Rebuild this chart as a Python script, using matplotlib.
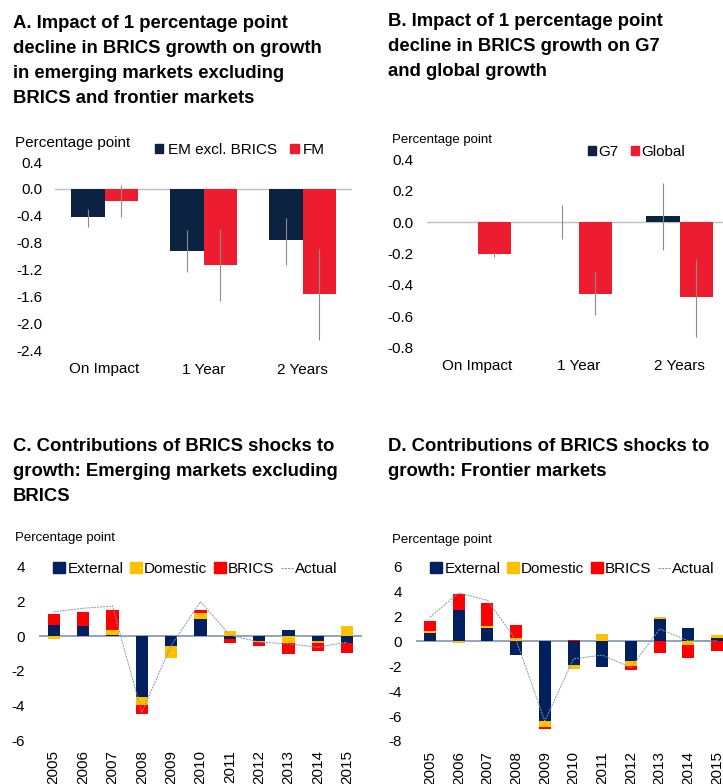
import numpy as np
import matplotlib
matplotlib.use("Agg")
import matplotlib.pyplot as plt
from matplotlib.patches import Patch
from matplotlib.lines import Line2D

plt.rcParams['font.family'] = ['Liberation Sans', 'DejaVu Sans']
plt.rcParams['axes.unicode_minus'] = False

# ---- data ----
horizons = ['On Impact', '1 Year', '2 Years']
em_excl = [-0.42, -0.93, -0.755]
em_lo = [-0.57, -1.24, -1.13]
em_hi = [-0.30, -0.62, -0.43]
fm = [-0.18, -1.13, -1.56]
fm_lo = [-0.42, -1.67, -2.25]
fm_hi = [0.06, -0.60, -0.89]

g7 = [0.0, 0.002, 0.037]
g7_lo = [np.nan, -0.105, -0.18]
g7_hi = [np.nan, 0.11, 0.25]
glob = [-0.20, -0.46, -0.48]
glob_lo = [-0.22, -0.59, -0.73]
glob_hi = [-0.19, -0.32, -0.235]

years = ['2005', '2006', '2007', '2008', '2009', '2010', '2011', '2012', '2013', '2014', '2015']
em_external = [0.63, 0.58, 0.05, -3.5, -0.56, 1.0, -0.2, -0.29, 0.35, -0.3, -0.42]
em_domestic = [-0.15, 0.0, 0.30, -0.5, -0.69, 0.3, 0.29, -0.06, -0.4, -0.1, 0.58]
em_brics = [0.64, 0.79, 1.15, -0.5, 0.0, 0.2, -0.22, -0.25, -0.66, -0.47, -0.54]
em_actual = [1.4, 1.6, 1.73, -4.4, -0.55, 1.98, 0.05, -0.35, -0.45, -0.65, -0.35]

fm_external = [0.64, 2.49, 1.04, -1.1, -6.4, -1.93, -2.05, -1.6, 1.79, 1.04, 0.25]
fm_domestic = [0.2, -0.15, 0.16, 0.24, -0.45, -0.32, 0.62, -0.35, 0.16, -0.25, 0.23]
fm_brics = [0.76, 1.28, 1.85, 1.04, -0.21, 0.12, 0.0, -0.32, -0.95, -1.08, -0.75]
fm_actual = [1.95, 3.9, 3.3, 0.1, -6.4, -1.4, -1.1, -2.1, 1.0, 0.05, 0.05]

NAVY = '#0B2341'
RED = '#ED1C2E'
EXT = '#002060'
DOM = '#FFC000'
BRI = '#FF0000'
ERR = '#8C8C8C'
W, H = 723, 784

fig = plt.figure(figsize=(W / 100, H / 100), dpi=100)


def add_ax(left, top, right, bottom):
    return fig.add_axes([left / W, 1 - bottom / H, (right - left) / W, (bottom - top) / H])


def clean(ax):
    for s in ax.spines.values():
        s.set_visible(False)
    ax.tick_params(length=0, labelsize=11)


def fmt1(vals):
    return ['0.0' if abs(v) < 1e-9 else f'{v:.1f}' for v in vals]


def title(x, y, txt):
    fig.text(x / W, 1 - y / H, txt, fontsize=13.3, fontweight='bold', va='top', ha='left',
             linespacing=1.62)


def pct(x, y, size):
    fig.text(x / W, 1 - y / H, 'Percentage point', fontsize=size, va='center', ha='left')


title(13, 15, 'A. Impact of 1 percentage point\ndecline in BRICS growth on growth\nin emerging markets excluding\nBRICS and frontier markets')
title(388, 13, 'B. Impact of 1 percentage point\ndecline in BRICS growth on G7\nand global growth')
title(13, 438, 'C. Contributions of BRICS shocks to\ngrowth: Emerging markets excluding\nBRICS')
title(388, 438, 'D. Contributions of BRICS shocks to\ngrowth: Frontier markets')

# ---- Panel A ----
ax = add_ax(55, 162, 352, 350)
clean(ax)
x = np.arange(len(horizons))
bw = 0.335
ax.bar(x - bw / 2, em_excl, bw, color=NAVY)
ax.bar(x + bw / 2, fm, bw, color=RED)
ax.vlines(x - bw / 2, em_lo, em_hi, color=ERR, lw=0.8)
ax.vlines(x + bw / 2, fm_lo, fm_hi, color=ERR, lw=0.8)
ax.axhline(0, color='#BFBFBF', lw=1, zorder=0)
ax.set_xlim(-0.5, 2.5)
ax.set_ylim(-2.4, 0.4)
at = np.arange(-2.4, 0.41, 0.4)
ax.set_yticks(at)
ax.set_yticklabels(fmt1(at))
ax.set_xticks(x)
ax.set_xticklabels(horizons)
ax.tick_params(axis='y', pad=9)
ax.tick_params(axis='x', pad=9)
pct(15, 143, 11)
ax.legend(handles=[Patch(color=NAVY, label='EM excl. BRICS'), Patch(color=RED, label='FM')],
          loc='center left', bbox_to_anchor=(155 / W, 1 - 150 / H), bbox_transform=fig.transFigure,
          ncol=2, frameon=False, fontsize=11, borderpad=0, borderaxespad=0,
          handlelength=0.55, handleheight=0.6, handletextpad=0.3, columnspacing=0.85)

# ---- Panel B ----
ax = add_ax(427, 159.3, 723, 347.7)
clean(ax)
ax.bar(x - bw / 2, g7, bw, color=NAVY)
ax.bar(x + bw / 2, glob, bw, color=RED)
ax.vlines(x - bw / 2, g7_lo, g7_hi, color=ERR, lw=0.8)
ax.vlines(x + bw / 2, glob_lo, glob_hi, color=ERR, lw=0.8)
ax.axhline(0, color='#BFBFBF', lw=1, zorder=0)
ax.set_xlim(-0.5, -0.5 + 296 / 101)
ax.set_ylim(-0.8, 0.4)
bt = np.arange(-0.8, 0.41, 0.2)
ax.set_yticks(bt)
ax.set_yticklabels(fmt1(bt))
ax.set_xticks(x)
ax.set_xticklabels(horizons)
ax.tick_params(axis='y', pad=10)
ax.tick_params(axis='x', pad=8)
pct(392, 140, 9.5)
ax.legend(handles=[Patch(color=NAVY, label='G7'), Patch(color=RED, label='Global')],
          loc='center left', bbox_to_anchor=(588 / W, 1 - 152 / H), bbox_transform=fig.transFigure,
          ncol=2, frameon=False, fontsize=11, borderpad=0, borderaxespad=0,
          handlelength=0.55, handleheight=0.6, handletextpad=0.1, columnspacing=0.85)


# ---- Panels C and D ----
def stacked(ax, series, colors, actual):
    xs = np.arange(len(years))
    pos = np.zeros(len(years))
    neg = np.zeros(len(years))
    for vals, c in zip(series, colors):
        vals = np.array(vals)
        bottom = np.where(vals >= 0, pos, neg)
        ax.bar(xs, vals, 0.42, bottom=bottom, color=c, zorder=2)
        pos = pos + np.clip(vals, 0, None)
        neg = neg + np.clip(vals, None, 0)
    ax.plot(xs, actual, color='#8496B0', lw=0.7, ls=(0, (2, 1)), zorder=3)
    ax.axhline(0, color='#7F93B8', lw=1.2, zorder=1)
    ax.set_xlim(-0.5, 10.5)
    ax.set_xticks(xs)
    ax.set_xticklabels(years, rotation=90)
    ax.tick_params(axis='x', pad=7)
    ax.tick_params(axis='y', pad=10)


def contrib_legend(ax, x0):
    hs = [Patch(color=EXT, label='External'), Patch(color=DOM, label='Domestic'),
          Patch(color=BRI, label='BRICS'),
          Line2D([], [], color='#8496B0', lw=0.8, ls=(0, (2, 1)), label='Actual')]
    ax.legend(handles=hs, loc='center left', bbox_to_anchor=(x0 / W, 1 - 569 / H),
              bbox_transform=fig.transFigure, ncol=4, frameon=False, fontsize=11,
              borderpad=0, borderaxespad=0, handlelength=0.8, handleheight=0.7,
              handletextpad=0.15, columnspacing=0.4)


ax = add_ax(39, 566.7, 362, 740)
clean(ax)
stacked(ax, [em_external, em_domestic, em_brics], [EXT, DOM, BRI], em_actual)
ax.set_ylim(-6, 4)
ax.set_yticks(np.arange(-6, 5, 2))
pct(15, 538, 9.5)
contrib_legend(ax, 53)

ax = add_ax(415.7, 566.7, 731.4, 741)
clean(ax)
stacked(ax, [fm_external, fm_domestic, fm_brics], [EXT, DOM, BRI], fm_actual)
ax.set_ylim(-8, 6)
ax.set_yticks(np.arange(-8, 7, 2))
pct(392, 540, 9.5)
contrib_legend(ax, 430)

fig.savefig('out.png', dpi=100)
